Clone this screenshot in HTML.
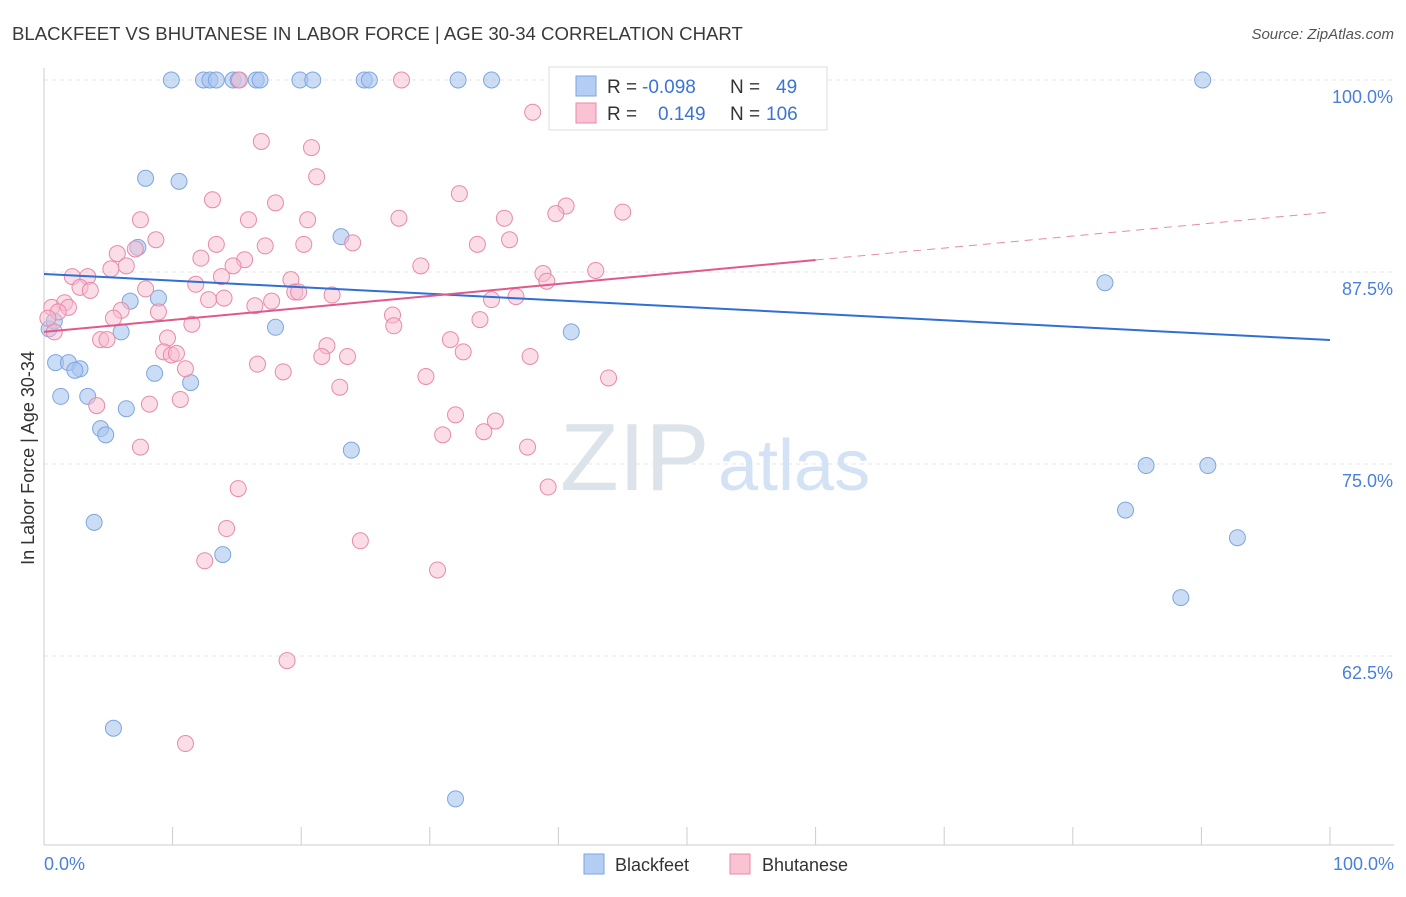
<!DOCTYPE html>
<html><head><meta charset="utf-8"><style>
body{margin:0;background:#fff;font-family:"Liberation Sans",sans-serif}
svg text{font-family:"Liberation Sans",sans-serif}
</style></head><body>
<svg width="1406" height="892" viewBox="0 0 1406 892" xmlns="http://www.w3.org/2000/svg">
<text x="12" y="40" font-size="18.6" fill="#3a3a3a">BLACKFEET VS BHUTANESE IN LABOR FORCE | AGE 30-34 CORRELATION CHART</text>
<text x="1394" y="39" font-size="15" fill="#555" text-anchor="end" font-style="italic">Source: ZipAtlas.com</text>
<g id="grid"></g>
<text x="560" y="490" font-size="96" fill="#dde3ea" font-family="Liberation Serif">ZIP</text>
<text x="718" y="490" font-size="72" fill="#d4e2f5">atlas</text>
<g id="axes"></g>
<g id="pts"></g>
<g id="lines"></g>
<text transform="translate(34,458) rotate(-90)" font-size="18" fill="#333" text-anchor="middle">In Labor Force | Age 30-34</text>
<text x="44" y="870" font-size="18" fill="#4a7fdc">0.0%</text>
<text x="1394" y="870" font-size="18" fill="#4a7fdc" text-anchor="end">100.0%</text>
<g>
<rect x="549" y="67" width="278" height="63" fill="#fff" stroke="#ddd"/>
<rect x="576" y="76" width="20" height="20" fill="#b3cdf3" stroke="#7ea6e0"/>
<rect x="576" y="103" width="20" height="20" fill="#f9c3d4" stroke="#e88aa8"/>
<text x="607" y="93" font-size="19" fill="#333">R =</text>
<text x="642" y="93" font-size="19" fill="#3b73d9">-0.098</text>
<text x="730" y="93" font-size="19" fill="#333">N =</text>
<text x="776" y="93" font-size="19" fill="#3b73d9">49</text>
<text x="607" y="120" font-size="19" fill="#333">R =</text>
<text x="658" y="120" font-size="19" fill="#3b73d9">0.149</text>
<text x="730" y="120" font-size="19" fill="#333">N =</text>
<text x="766" y="120" font-size="19" fill="#3b73d9">106</text>
</g>
<g>
<rect x="584" y="854" width="20" height="20" fill="#b3cdf3" stroke="#7ea6e0"/>
<text x="615" y="871" font-size="18" fill="#333">Blackfeet</text>
<rect x="730" y="854" width="20" height="20" fill="#f9c3d4" stroke="#e88aa8"/>
<text x="762" y="871" font-size="18" fill="#333">Bhutanese</text>
</g>
</svg>
<script>
const yTicks=[100,87.5,75,62.5];
const yTickLabels=["100.0%","87.5%","75.0%","62.5%"];
const blackX=[9.9,12.4,12.9,13.4,14.7,15.1,16.5,16.8,19.9,20.9,24.9,25.3,32.2,34.8,40.5,90.1,7.9,10.5,7.3,23.1,6.7,8.9,6.0,18.0,41.0,82.5,0.9,1.9,2.8,2.4,1.3,3.4,8.6,11.4,6.4,4.4,4.8,23.9,3.9,13.9,5.4,32.0,85.7,90.5,84.1,92.8,88.4,0.4,0.8];
const blackY=[100,100,100,100,100,100,100,100,100,100,100,100,100,100,100,100,93.6,93.4,89.1,89.8,85.6,85.8,83.6,83.9,83.6,86.8,81.6,81.6,81.2,81.1,79.4,79.4,80.9,80.3,78.6,77.3,76.9,75.9,71.2,69.1,57.8,53.2,74.9,74.9,72.0,70.2,66.3,83.8,84.3];
const bhutX=[15.2,27.8,38.0,59.8,16.9,20.8,21.2,13.1,18.0,32.3,40.6,39.8,45.0,35.8,27.6,15.9,20.5,7.5,8.7,13.4,17.2,20.2,24.0,36.2,33.7,7.1,5.7,12.2,15.6,14.7,6.4,5.2,29.3,38.8,42.9,2.2,3.4,13.8,19.2,11.8,39.1,2.8,3.6,7.9,19.5,19.8,22.4,36.7,34.8,12.8,14.0,17.7,16.4,1.6,0.6,1.9,1.1,6.0,8.9,5.4,27.1,33.9,11.5,27.2,4.4,4.9,9.6,31.6,22.0,9.3,9.9,10.3,23.6,32.6,37.8,21.6,16.6,11.0,18.6,29.7,43.9,23.0,4.1,8.2,10.6,32.0,35.1,34.2,31.0,37.6,7.5,15.1,39.2,14.2,24.6,12.5,30.6,18.9,11.0,0.8,0.3];
const bhutY=[100,100,97.9,100,96.0,95.6,93.7,92.2,92.0,92.6,91.8,91.3,91.4,91.0,91.0,90.9,90.9,90.9,89.6,89.3,89.2,89.3,89.4,89.6,89.3,89.0,88.7,88.4,88.3,87.9,87.9,87.7,87.9,87.4,87.6,87.2,87.2,87.2,87.0,86.7,86.9,86.5,86.3,86.4,86.2,86.2,86.0,85.9,85.7,85.7,85.8,85.6,85.3,85.5,85.2,85.2,84.9,85.0,84.9,84.5,84.7,84.4,84.1,84.0,83.1,83.1,83.2,83.1,82.7,82.3,82.1,82.2,82.0,82.3,82.0,82.0,81.5,81.2,81.0,80.7,80.6,80.0,78.8,78.9,79.2,78.2,77.8,77.1,76.9,76.1,76.1,73.4,73.5,70.8,70.0,68.7,68.1,62.2,56.8,83.6,84.5];
const blackTrend=[87.37,83.07];
const bhutTrend=[83.6,88.28,91.4];
const NS="http://www.w3.org/2000/svg";
const x=v=>44+v*12.86, y=v=>80+(100-v)*15.36;
function mk(tag,attrs,parent){const e=document.createElementNS(NS,tag);for(const k in attrs)e.setAttribute(k,attrs[k]);document.getElementById(parent).appendChild(e);return e;}
yTicks.forEach((t,i)=>{
 const l=mk('line',{x1:44,x2:1394,y1:y(t),y2:y(t),stroke:'#e4e4e4','stroke-dasharray':'4,4'},'grid');
 
 
 const tx=mk('text',{x:1393,y:y(t)+23,'font-size':18,fill:'#4a7fdc','text-anchor':'end'},'grid');
 tx.textContent=yTickLabels[i];
 
 
});
mk('line',{x1:44,x2:44,y1:68,y2:845,stroke:'#ccc'},'axes');
mk('line',{x1:44,x2:1394,y1:845,y2:845,stroke:'#ccc'},'axes');
for(let i=0;i<=10;i++){const t=mk('line',{x1:x(i*10),x2:x(i*10),y1:827,y2:845,stroke:'#ccc'},'axes');
 
 }
blackX.forEach((v,i)=>{const c=mk('circle',{cx:x(v),cy:y(blackY[i]),r:8,fill:'#a9c4ef','fill-opacity':0.6,stroke:'#7ea6e0'},'pts');
 
 });
bhutX.forEach((v,i)=>{const c=mk('circle',{cx:x(v),cy:y(bhutY[i]),r:8,fill:'#f7bcd0','fill-opacity':0.5,stroke:'#e88aa8'},'pts');
 
 });
const b=mk('line',{x1:x(0),y1:y(blackTrend[0]),x2:x(100),y2:y(blackTrend[1]),stroke:'#2f6fd6','stroke-width':2},'lines');


const p=mk('line',{x1:x(0),y1:y(bhutTrend[0]),x2:x(60),y2:y(bhutTrend[1]),stroke:'#e0588c','stroke-width':2},'lines');


const pd=mk('line',{x1:x(60),y1:y(bhutTrend[1]),x2:x(100),y2:y(bhutTrend[2]),stroke:'#e88aa8','stroke-width':1,'stroke-dasharray':'8,6'},'lines');


</script>
</body></html>
